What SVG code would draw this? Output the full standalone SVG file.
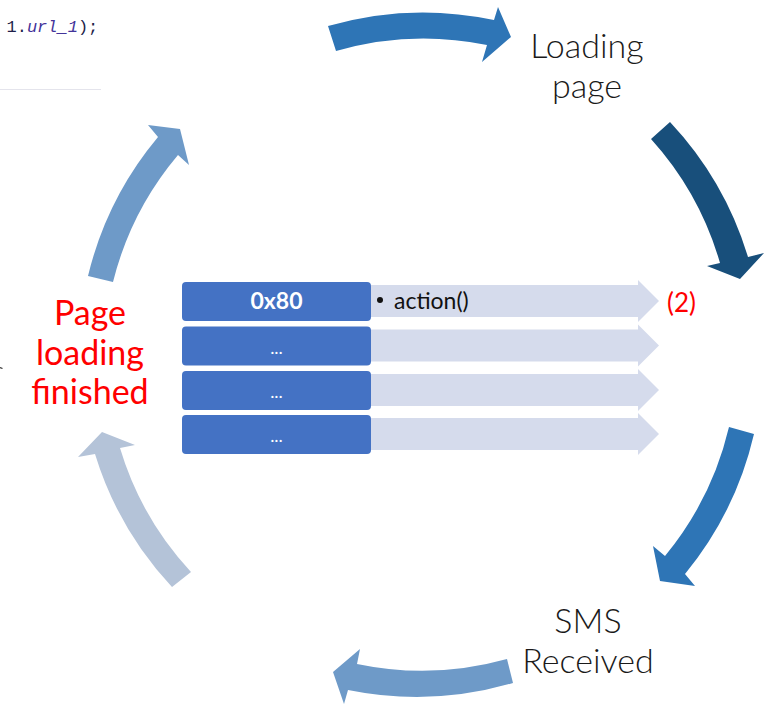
<svg xmlns="http://www.w3.org/2000/svg" width="782" height="713" viewBox="0 0 782 713">
  <style>
    .big { font-family: Lato, "Liberation Sans", sans-serif; font-size: 34px; text-anchor: middle; }
    .light { font-weight: 300; fill: #1a1a1a; }
    .red { fill: #ff0000; }
    .key { fill: #4472c4; }
    .lane { fill: #d5dbec; }
    .keytxt { font-family: Lato, "Liberation Sans", sans-serif; fill: #ffffff; text-anchor: middle; }
    .code { font-family: "Liberation Mono", "DejaVu Sans Mono", monospace; font-size: 17px; fill: #1f1f4a; }
  </style>

  <!-- code fragment and rule line at top left -->
  <text class="code" x="6.5" y="32">1.<tspan font-style="italic" fill="#43349a">url_1</tspan>);</text>
  <line x1="0" y1="89.5" x2="101" y2="89.5" stroke="#e4e4ec" stroke-width="1"/>
  <line x1="0" y1="367.5" x2="2.5" y2="368.5" stroke="#333333" stroke-width="1.2"/>

  <!-- cycle arrows -->
  <g id="connectors">
    <path id="arrow-top" fill="#2e75b6" d="M328,26 A342,342 0 0 1 494,20 L498,7 L511,37 L482,62 L487,45 A316,316 0 0 0 336,51 Z"/>
    <path id="arrow-right-top" fill="#184f7b" d="M670,122 A342,342 0 0 1 748,257 L764,253 L740,279 L707,266 L720,263 A315,315 0 0 0 651,139 Z"/>
    <path id="arrow-right-bottom" fill="#2e75b6" d="M754,434 A343,343 0 0 1 685,574 L695,586 L660,581 L653,546 L665,556 A317,317 0 0 0 729,427 Z"/>
    <path id="arrow-bottom" fill="#6e9ac8" d="M513,683 A343,343 0 0 1 348,690 L344,704 L333,672 L360,649 L357,664 A317,317 0 0 0 507,659 Z"/>
    <path id="arrow-left-bottom" fill="#b4c3d8" d="M172,587 A341,341 0 0 1 95,454 L78,457 L102,432 L135,445 L120,448 A315,315 0 0 0 191,572 Z"/>
    <path id="arrow-left-top" fill="#6e9ac8" d="M88,276 A341,341 0 0 1 158,137 L148,125 L180,129 L189,165 L178,155 A315,315 0 0 0 113,282 Z"/>
  </g>

  <!-- stage labels -->
  <g id="loading-page">
    <text class="big light" x="587" y="58">Loading</text>
    <text class="big light" x="587" y="98">page</text>
  </g>
  <g id="sms-received">
    <text class="big light" x="588" y="633">SMS</text>
    <text class="big light" x="588" y="673">Received</text>
  </g>
  <g id="page-loading-finished">
    <text class="big red" x="90" y="325">Page</text>
    <text class="big red" x="90" y="365">loading</text>
    <text class="big red" x="90" y="404">finished</text>
  </g>

  <!-- handler table -->
  <g id="row-0x80">
    <polygon class="lane" points="371,285 638,285 638,280 659,301 638,322 638,317 371,317"/>
    <rect class="key" x="182" y="282" width="189" height="39" rx="4"/>
    <text class="keytxt" x="276.5" y="309" font-size="23" font-weight="bold">0x80</text>
    <circle cx="380" cy="300" r="3" fill="#111111"/>
    <text x="394" y="309" font-family="Lato, 'Liberation Sans', sans-serif" font-size="23" fill="#111111">action()</text>
    <text x="667" y="312" font-family="Lato, 'Liberation Sans', sans-serif" font-size="26" fill="#ff0000">(2)</text>
  </g>
  <g id="row-2">
    <polygon class="lane" points="371,329.5 638,329.5 638,324.5 659,345.5 638,366.5 638,361.5 371,361.5"/>
    <rect class="key" x="182" y="326.5" width="189" height="39" rx="4"/>
    <text class="keytxt" x="276.5" y="353.5" font-size="18">...</text>
  </g>
  <g id="row-3">
    <polygon class="lane" points="371,374 638,374 638,369 659,390 638,411 638,406 371,406"/>
    <rect class="key" x="182" y="371" width="189" height="39" rx="4"/>
    <text class="keytxt" x="276.5" y="398" font-size="18">...</text>
  </g>
  <g id="row-4">
    <polygon class="lane" points="371,418 638,418 638,413 659,434 638,455 638,450 371,450"/>
    <rect class="key" x="182" y="415" width="189" height="39" rx="4"/>
    <text class="keytxt" x="276.5" y="442" font-size="18">...</text>
  </g>
</svg>
